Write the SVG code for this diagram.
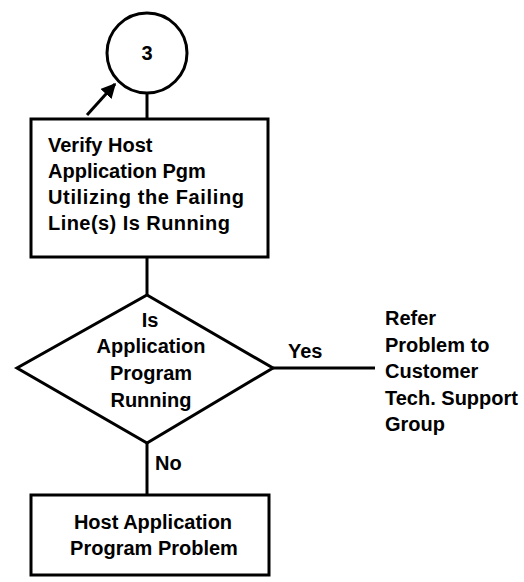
<svg xmlns="http://www.w3.org/2000/svg" width="524" height="582" viewBox="0 0 524 582">
<defs>
<style>
.s{fill:#fff;stroke:#000;stroke-width:3}
.c{fill:none;stroke:#000;stroke-width:3}
text{font-family:"Liberation Sans",Arial,sans-serif;font-weight:bold;font-size:20px;fill:#000}
.m{text-anchor:middle}
</style>
<marker id="ah" viewBox="0 0 10 10" refX="9" refY="5" markerWidth="5" markerHeight="5" orient="auto" markerUnits="strokeWidth">
<path d="M0,0 L10,5 L0,10 z" fill="#000"/>
</marker>
</defs>
<rect width="524" height="582" fill="#fff"/>
<g id="connectors">
<line class="c" x1="147" y1="93" x2="147" y2="119"/>
<line class="c" x1="87" y1="115" x2="115" y2="84" marker-end="url(#ah)"/>
<line class="c" x1="147" y1="257" x2="147" y2="295"/>
<line class="c" x1="273" y1="368" x2="375" y2="368"/>
<line class="c" x1="147" y1="443" x2="147" y2="495"/>
<text x="288" y="358">Yes</text>
<text x="155" y="470">No</text>
</g>
<g id="n3">
<circle class="s" cx="147" cy="53" r="40"/>
<text class="m" x="147" y="60">3</text>
</g>
<g id="verify">
<rect class="s" x="31" y="119" width="237" height="138"/>
<text x="48" y="152">Verify Host</text>
<text x="48" y="178">Application Pgm</text>
<text x="48" y="204" textLength="196" lengthAdjust="spacing">Utilizing the Failing</text>
<text x="48" y="230" textLength="182" lengthAdjust="spacing">Line(s) Is Running</text>
</g>
<g id="decision">
<polygon class="s" points="147,295 273,368 147,443 17,368"/>
<text class="m" x="150" y="327">Is</text>
<text class="m" x="151" y="353">Application</text>
<text class="m" x="151" y="380">Program</text>
<text class="m" x="151" y="407">Running</text>
</g>
<g id="refer">
<text x="385" y="325">Refer</text>
<text x="385" y="352">Problem to</text>
<text x="385" y="378">Customer</text>
<text x="385" y="405">Tech. Support</text>
<text x="385" y="431">Group</text>
</g>
<g id="hostproblem">
<rect class="s" x="31" y="495" width="238" height="80"/>
<text class="m" x="153" y="529">Host Application</text>
<text class="m" x="154" y="555">Program Problem</text>
</g>
</svg>
